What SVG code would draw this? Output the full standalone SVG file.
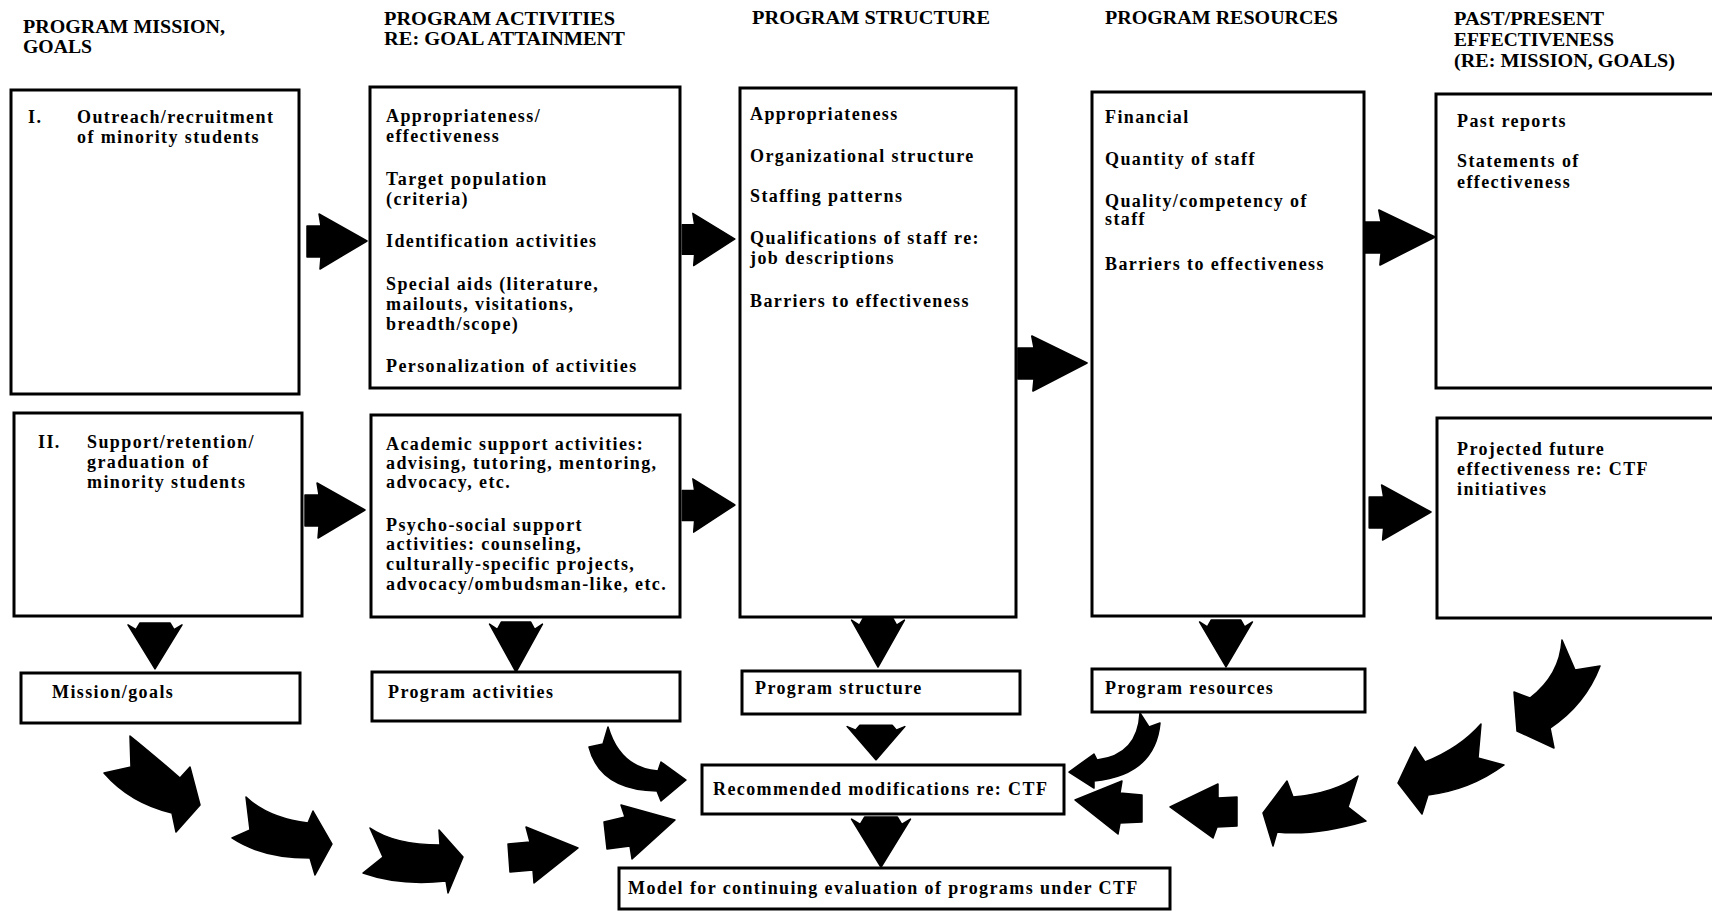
<svg xmlns="http://www.w3.org/2000/svg" xmlns:xlink="http://www.w3.org/1999/xlink" width="1712" height="915" viewBox="0 0 1712 915">
<style>
.box{fill:#fff;stroke:#000;stroke-width:3}
.t{font-family:"Liberation Serif","Times New Roman",serif;font-weight:bold;font-size:18px;letter-spacing:1.4px;fill:#000}
.h{font-family:"Liberation Serif","Times New Roman",serif;font-weight:bold;font-size:19px;fill:#000}
.arr{fill:#000;stroke:#000;stroke-width:1.5;stroke-linejoin:round}
</style>
<defs>
<path id="blk" d="M0,0 L-48,-27 L-46,-15 L-60,-15 L-60,16 L-46,16 L-47,28 Z"/>
<path id="dn" d="M0,0 L-27,-46 L-19,-41 L-15,-48 L15,-48 L19,-41 L27,-46 Z"/>
</defs>
<rect x="0" y="0" width="1712" height="915" fill="#fff"/>

<g id="headers">
<text class="h" x="23" y="33" textLength="202" lengthAdjust="spacingAndGlyphs">PROGRAM MISSION,</text>
<text class="h" x="23" y="53" textLength="69" lengthAdjust="spacingAndGlyphs">GOALS</text>
<text class="h" x="384" y="25" textLength="231" lengthAdjust="spacingAndGlyphs">PROGRAM ACTIVITIES</text>
<text class="h" x="384" y="45" textLength="241" lengthAdjust="spacingAndGlyphs">RE: GOAL ATTAINMENT</text>
<text class="h" x="752" y="24" textLength="238" lengthAdjust="spacingAndGlyphs">PROGRAM STRUCTURE</text>
<text class="h" x="1105" y="24" textLength="233" lengthAdjust="spacingAndGlyphs">PROGRAM RESOURCES</text>
<text class="h" x="1454" y="25" textLength="150" lengthAdjust="spacingAndGlyphs">PAST/PRESENT</text>
<text class="h" x="1454" y="46" textLength="160" lengthAdjust="spacingAndGlyphs">EFFECTIVENESS</text>
<text class="h" x="1454" y="67" textLength="221" lengthAdjust="spacingAndGlyphs">(RE: MISSION, GOALS)</text>
</g>

<g id="goal1">
<rect class="box" x="11" y="90" width="288" height="304"/>
<text class="t" x="28" y="123">I.</text>
<text class="t" x="77" y="123">Outreach/recruitment</text>
<text class="t" x="77" y="143">of minority students</text>
</g>

<g id="goal2">
<rect class="box" x="14" y="413" width="288" height="203"/>
<text class="t" x="38" y="448">II.</text>
<text class="t" x="87" y="448">Support/retention/</text>
<text class="t" x="87" y="468">graduation of</text>
<text class="t" x="87" y="488">minority students</text>
</g>

<g id="act1">
<rect class="box" x="370" y="87" width="310" height="301"/>
<text class="t" x="386" y="122">Appropriateness/</text>
<text class="t" x="386" y="142">effectiveness</text>
<text class="t" x="386" y="185">Target population</text>
<text class="t" x="386" y="205">(criteria)</text>
<text class="t" x="386" y="247">Identification activities</text>
<text class="t" x="386" y="290">Special aids (literature,</text>
<text class="t" x="386" y="310">mailouts, visitations,</text>
<text class="t" x="386" y="330">breadth/scope)</text>
<text class="t" x="386" y="372">Personalization of activities</text>
</g>

<g id="act2">
<rect class="box" x="371" y="415" width="309" height="202"/>
<text class="t" x="386" y="450">Academic support activities:</text>
<text class="t" x="386" y="469">advising, tutoring, mentoring,</text>
<text class="t" x="386" y="488">advocacy, etc.</text>
<text class="t" x="386" y="531">Psycho-social support</text>
<text class="t" x="386" y="550">activities: counseling,</text>
<text class="t" x="386" y="570">culturally-specific projects,</text>
<text class="t" x="386" y="590">advocacy/ombudsman-like, etc.</text>
</g>

<g id="struct">
<rect class="box" x="740" y="88" width="276" height="529"/>
<text class="t" x="750" y="120">Appropriateness</text>
<text class="t" x="750" y="162">Organizational structure</text>
<text class="t" x="750" y="202">Staffing patterns</text>
<text class="t" x="750" y="244">Qualifications of staff re:</text>
<text class="t" x="750" y="264">job descriptions</text>
<text class="t" x="750" y="307">Barriers to effectiveness</text>
</g>

<g id="res">
<rect class="box" x="1092" y="92" width="272" height="524"/>
<text class="t" x="1105" y="123">Financial</text>
<text class="t" x="1105" y="165">Quantity of staff</text>
<text class="t" x="1105" y="207">Quality/competency of</text>
<text class="t" x="1105" y="225">staff</text>
<text class="t" x="1105" y="270">Barriers to effectiveness</text>
</g>

<g id="past">
<rect class="box" x="1436" y="94" width="290" height="294"/>
<text class="t" x="1457" y="127">Past reports</text>
<text class="t" x="1457" y="167">Statements of</text>
<text class="t" x="1457" y="188">effectiveness</text>
</g>

<g id="proj">
<rect class="box" x="1437" y="418" width="290" height="200"/>
<text class="t" x="1457" y="455">Projected future</text>
<text class="t" x="1457" y="475">effectiveness re: CTF</text>
<text class="t" x="1457" y="495">initiatives</text>
</g>

<g id="mission">
<rect class="box" x="21" y="673" width="279" height="50"/>
<text class="t" x="52" y="698">Mission/goals</text>
</g>

<g id="activities">
<rect class="box" x="372" y="672" width="308" height="49"/>
<text class="t" x="388" y="698">Program activities</text>
</g>

<g id="structure">
<rect class="box" x="742" y="671" width="278" height="43"/>
<text class="t" x="755" y="694">Program structure</text>
</g>

<g id="resources">
<rect class="box" x="1092" y="669" width="273" height="43"/>
<text class="t" x="1105" y="694">Program resources</text>
</g>

<g id="recommended">
<rect class="box" x="702" y="765" width="362" height="49"/>
<text class="t" x="713" y="795">Recommended modifications re: CTF</text>
</g>

<g id="model">
<rect class="box" x="619" y="868" width="551" height="41"/>
<text class="t" x="628" y="894">Model for continuing evaluation of programs under CTF</text>
</g>

<g id="connectors">
<use href="#blk" class="arr" transform="translate(367,241)"/>
<use href="#blk" class="arr" transform="translate(365,510)"/>
<use href="#blk" class="arr" transform="translate(735,239) scale(0.88,0.95)"/>
<use href="#blk" class="arr" transform="translate(735,505) scale(0.88,0.97)"/>
<use href="#blk" class="arr" transform="translate(1087,363) scale(1.15,1)"/>
<use href="#blk" class="arr" transform="translate(1435,237) scale(1.17,1)"/>
<use href="#blk" class="arr" transform="translate(1431,512) scale(1.03,1)"/>

<use href="#dn" class="arr" transform="translate(155,669) scale(1,0.96)"/>
<use href="#dn" class="arr" transform="translate(516,672) scale(0.98,1.04)"/>
<use href="#dn" class="arr" transform="translate(878,667) scale(0.98,1.02)"/>
<use href="#dn" class="arr" transform="translate(1226,667) scale(0.98,0.98)"/>
<use href="#dn" class="arr" transform="translate(876,760) scale(1.07,0.73)"/>
<use href="#dn" class="arr" transform="translate(881,867) scale(1.09,1.04)"/>

<path class="arr" d="M130,736 Q150,752 180,778 L190,767 L200,805 L176,832 L172,813 Q130,803 104,773 L131,767 Z"/>
<path class="arr" d="M246,797 Q268,818 308,823 L313,811 L332,844 L315,875 L310,858 Q262,858 232,838 L250,830 Z"/>
<path class="arr" d="M370,828 Q395,845 440,845 L439,830 L463,857 L448,893 L446,881 Q400,886 363,873 L383,857 Z"/>
<path class="arr" d="M578,848 L526,827 L530,842 L508,844 L510,872 L533,870 L534,883 Z"/>
<path class="arr" d="M675,820 L621,805 L625,817 L604,822 L607,849 L630,846 L632,859 Z"/>
<path class="arr" d="M608,727 Q620,768 658,771 L661,762 L686,780 L661,801 L657,791 Q600,790 589,747 L603,744 Z"/>
<path class="arr" d="M1140,713 Q1138,755 1097,760 L1094,754 L1069,772 L1094,788 L1094,781 Q1155,775 1160,723 L1149,727 Z"/>
<path class="arr" d="M1075,800 L1122,781 L1120,793 L1142,795 L1142,822 L1120,823 L1118,834 Z"/>
<path class="arr" d="M1170,807 L1218,784 L1218,798 L1237,797 L1237,826 L1217,827 L1213,838 Z"/>
<path class="arr" d="M1263,813 L1287,781 L1293,797 Q1335,793 1358,776 L1348,807 L1366,821 Q1315,836 1277,832 L1273,846 Z"/>
<path class="arr" d="M1398,783 L1415,747 L1425,762 Q1460,748 1481,724 L1478,758 L1504,765 Q1470,790 1428,795 L1422,814 Z"/>
<path class="arr" d="M1562,640 Q1560,675 1530,698 L1514,692 L1517,731 L1554,748 L1550,728 Q1585,705 1600,666 L1575,670 Z"/>
</g>
</svg>
